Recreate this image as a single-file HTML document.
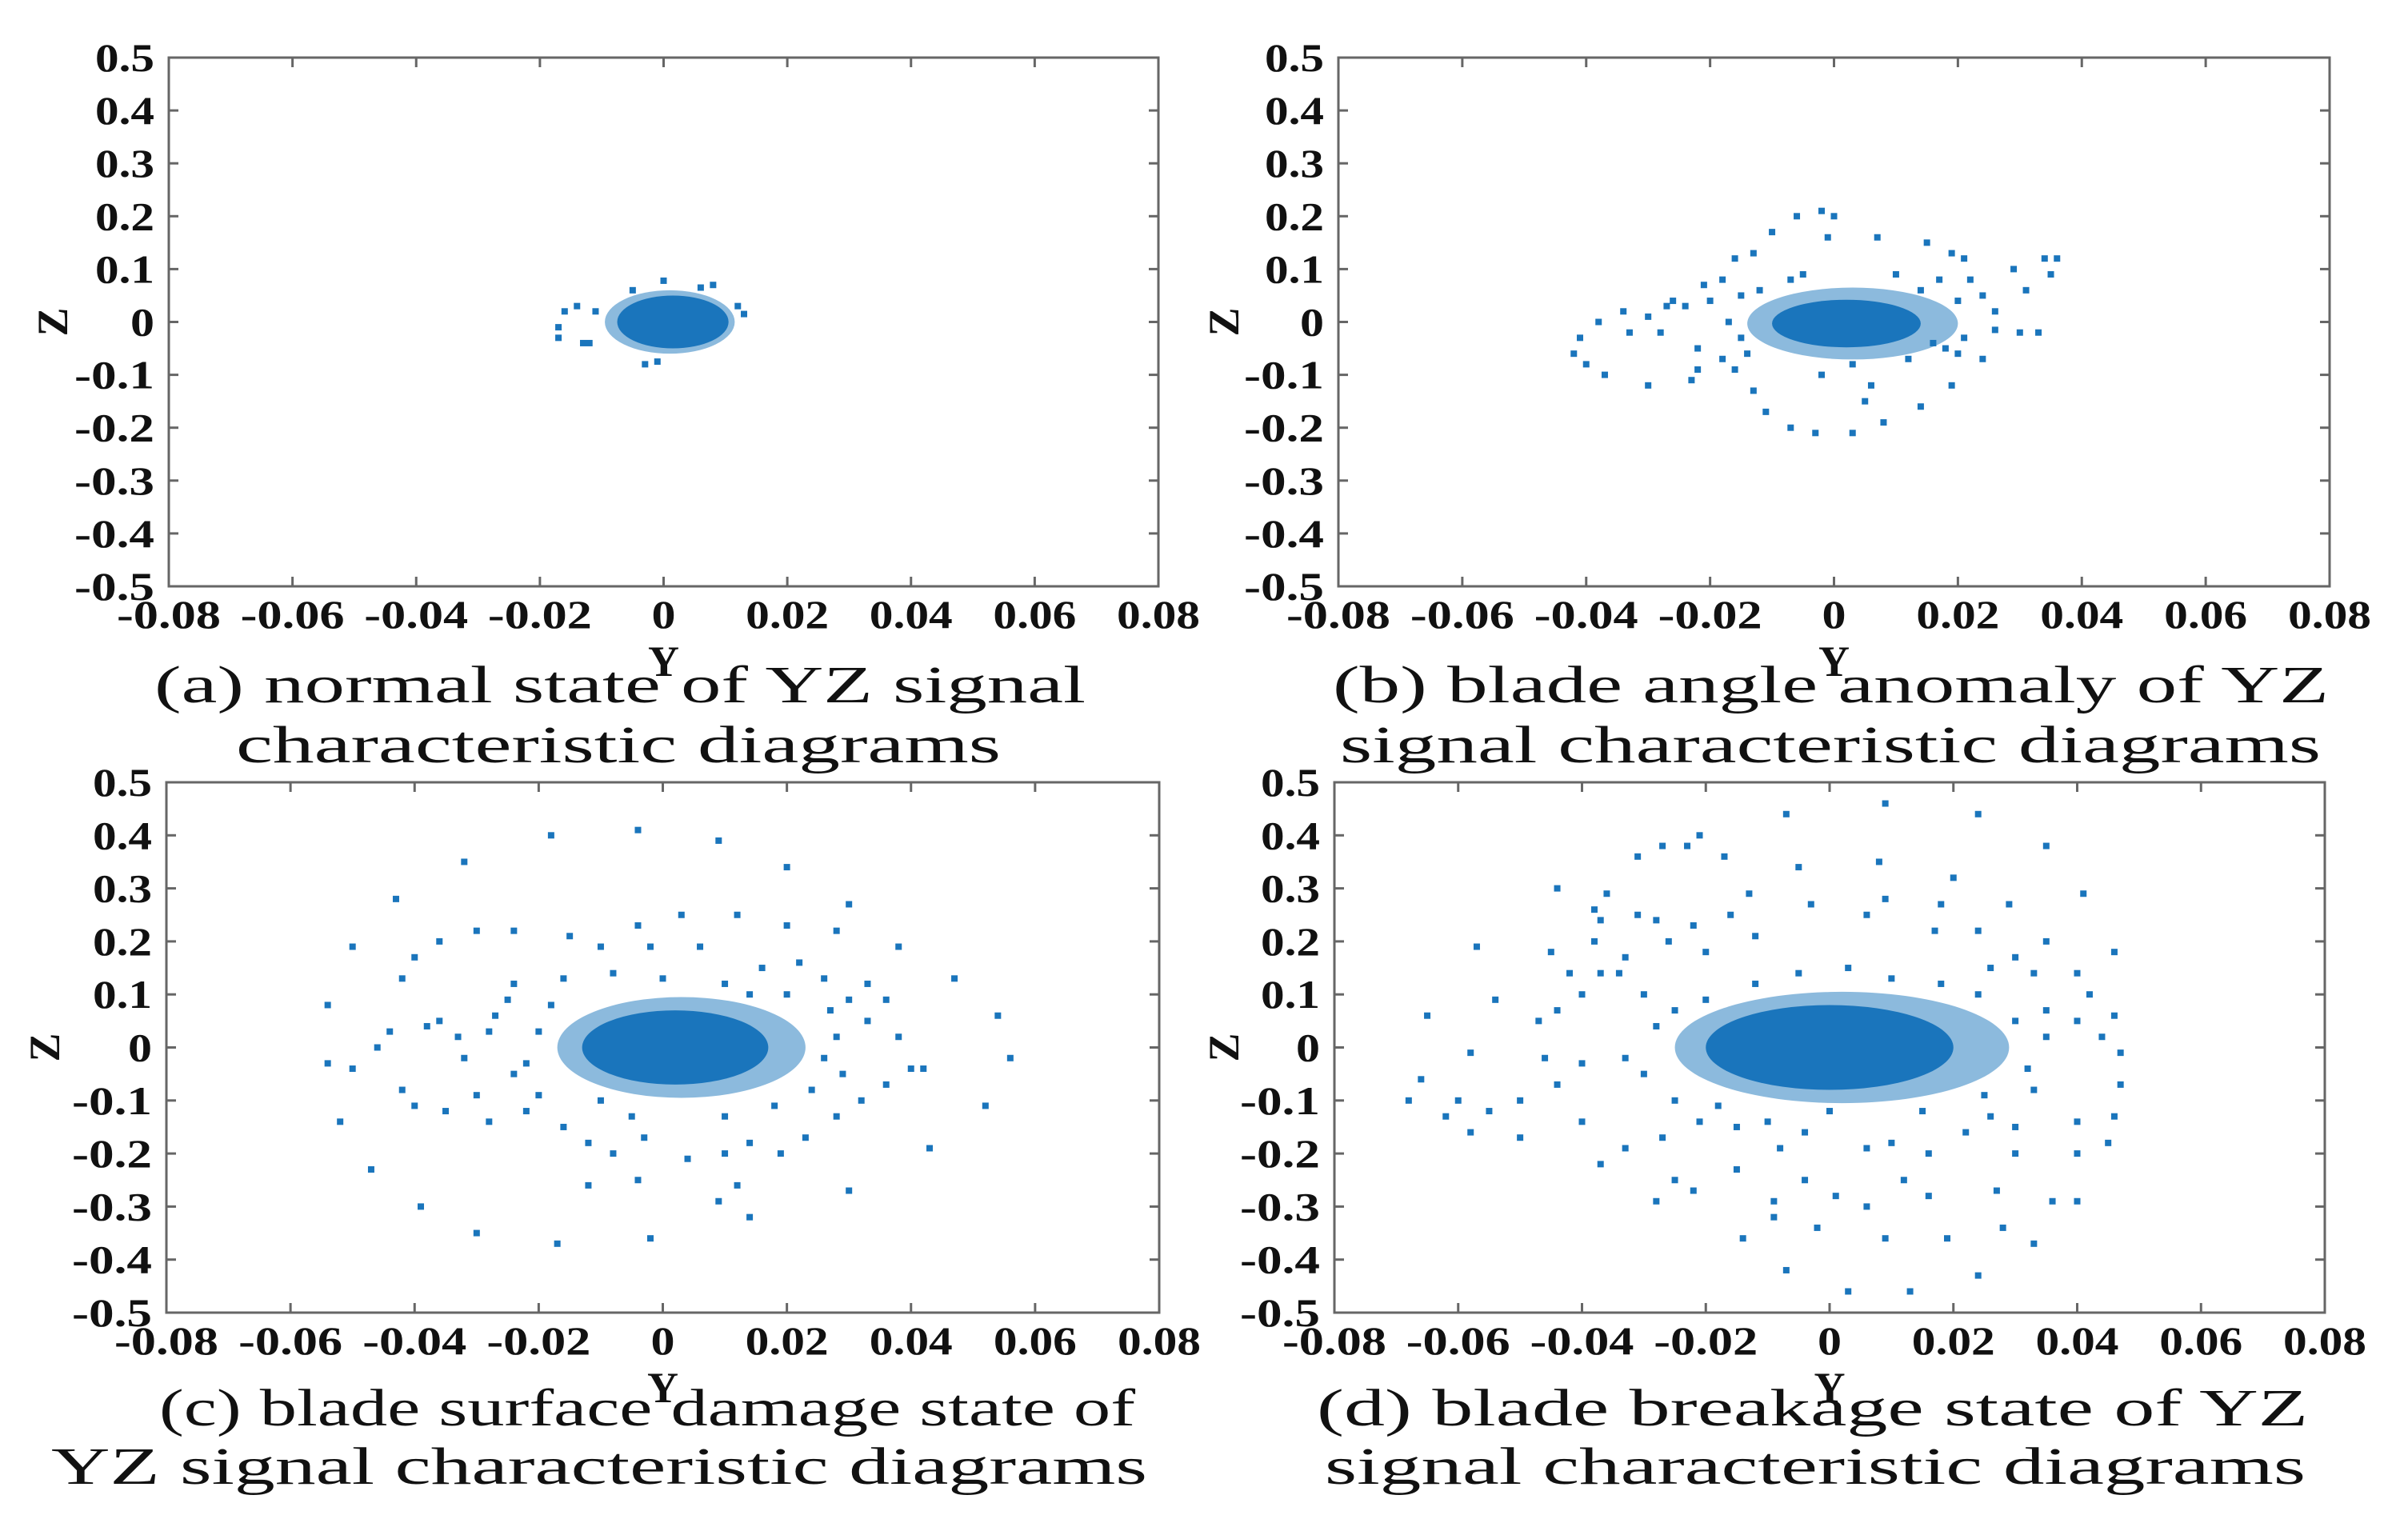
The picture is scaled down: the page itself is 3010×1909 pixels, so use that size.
<!DOCTYPE html>
<html><head><meta charset="utf-8"><style>
html,body{margin:0;padding:0;background:#fff;}
svg{display:block;}
.tk{font-family:"Liberation Serif",serif;font-weight:bold;font-size:50px;fill:#111;}
.cap{font-family:"Liberation Serif",serif;font-size:66px;fill:#111;}
.al{font-family:"Liberation Serif",serif;font-weight:bold;font-size:54px;fill:#111;}
</style></head><body>
<svg id="fig" width="3010" height="1909" viewBox="0 0 3010 1909" xmlns="http://www.w3.org/2000/svg"></svg>
<script>
const xTicks=[-0.08,-0.06,-0.04,-0.02,0,0.02,0.04,0.06,0.08];
const xTickLabels=["-0.08","-0.06","-0.04","-0.02","0","0.02","0.04","0.06","0.08"];
const zTicks=[0.5,0.4,0.3,0.2,0.1,0,-0.1,-0.2,-0.3,-0.4,-0.5];
const zTickLabels=["0.5","0.4","0.3","0.2","0.1","0","-0.1","-0.2","-0.3","-0.4","-0.5"];
const panelIds=["a","b","c","d"];
const captionLine1=["(a) normal state of YZ signal","(b) blade angle anomaly of YZ","(c) blade surface damage state of","(d) blade breakage state of YZ"];
const captionLine2=["characteristic diagrams","signal characteristic diagrams","YZ signal characteristic diagrams","signal characteristic diagrams"];
// dense core of each cloud: [centerY, centerZ, radiusY, radiusZ]
const coreA=[0.0015,0.0,0.009,0.05];
const coreB=[0.002,-0.003,0.012,0.045];
const coreC=[0.002,0.0,0.015,0.07];
const coreD=[0.0,0.0,0.02,0.08];
// halo (medium density) around each core: [centerY, centerZ, radiusY, radiusZ]
const haloA=[0.001,0.0,0.0105,0.06];
const haloB=[0.003,-0.003,0.017,0.068];
const haloC=[0.003,0.0,0.02,0.095];
const haloD=[0.002,0.0,0.027,0.105];
const pointsA=[[-0.017,-0.01],[-0.016,0.02],[-0.014,0.03],[-0.017,-0.03],[-0.013,-0.04],[-0.003,-0.08],[-0.001,-0.075],[0,0.078],[0.012,0.03],[0.008,0.07],[0.013,0.015],[-0.011,0.02],[-0.012,-0.04],[0.006,0.065],[-0.005,0.06]];
const pointsB=[[-0.002,0.21],[-0.006,0.2],[0,0.2],[-0.001,0.16],[-0.01,0.17],[-0.016,0.12],[-0.013,0.13],[0.007,0.16],[0.015,0.15],[0.019,0.13],[0.021,0.12],[0.029,0.1],[0.034,0.12],[0.036,0.12],[0.035,0.09],[0.031,0.06],[0.033,-0.02],[0.03,-0.02],[0.026,-0.015],[0.024,-0.07],[0.019,-0.12],[0.014,-0.16],[0.008,-0.19],[0.003,-0.21],[-0.003,-0.21],[-0.007,-0.2],[-0.011,-0.17],[-0.013,-0.13],[0.005,-0.15],[0.006,-0.12],[-0.023,-0.11],[-0.022,-0.09],[-0.03,-0.12],[-0.037,-0.1],[-0.04,-0.08],[-0.042,-0.06],[-0.041,-0.03],[-0.038,0],[-0.034,0.02],[-0.033,-0.02],[-0.03,0.01],[-0.028,-0.02],[-0.026,0.04],[-0.027,0.03],[-0.024,0.03],[-0.022,-0.05],[-0.021,0.07],[-0.018,0.08],[-0.02,0.04],[-0.018,-0.07],[-0.016,-0.09],[-0.015,0.05],[0.022,0.08],[0.024,0.05],[0.026,0.02],[0.02,-0.06],[0.017,0.08],[0.01,0.09],[-0.005,0.09],[-0.007,0.08],[0.012,-0.07],[-0.002,-0.1],[0.003,-0.08],[0.016,-0.04],[-0.015,-0.03],[-0.017,0.0],[0.02,0.04],[0.021,-0.03],[0.018,-0.05],[0.014,0.06],[-0.012,0.06],[-0.014,-0.06]];
const pointsC=[[-0.004,0.41],[-0.018,0.4],[0.009,0.39],[-0.032,0.35],[0.02,0.34],[-0.043,0.28],[0.03,0.27],[-0.05,0.19],[-0.036,0.2],[-0.03,0.22],[-0.024,0.22],[0.038,0.19],[0.047,0.13],[-0.054,0.08],[0.054,0.06],[0.056,-0.02],[0.052,-0.11],[0.043,-0.19],[-0.054,-0.03],[-0.052,-0.14],[-0.047,-0.23],[-0.039,-0.3],[-0.03,-0.35],[-0.017,-0.37],[-0.002,-0.36],[0.014,-0.32],[0.009,-0.29],[0.03,-0.27],[0.012,-0.26],[-0.012,-0.26],[-0.004,-0.25],[0.003,0.25],[-0.004,0.23],[0.012,0.25],[0.02,0.23],[0.028,0.22],[-0.015,0.21],[-0.01,0.19],[0.006,0.19],[-0.002,0.19],[0.022,0.16],[0.016,0.15],[-0.024,0.12],[-0.042,0.13],[-0.04,0.17],[-0.044,0.03],[-0.046,0],[-0.05,-0.04],[-0.042,-0.08],[-0.04,-0.11],[-0.035,-0.12],[-0.03,-0.09],[-0.028,-0.14],[-0.022,-0.12],[-0.016,-0.15],[-0.012,-0.18],[-0.008,-0.2],[-0.003,-0.17],[0.004,-0.21],[0.01,-0.2],[0.014,-0.18],[0.019,-0.2],[0.023,-0.17],[0.028,-0.13],[0.032,-0.1],[0.036,-0.07],[0.04,-0.04],[0.042,-0.04],[0.038,0.02],[0.033,0.05],[0.036,0.09],[0.03,0.09],[0.026,0.13],[0.033,0.12],[-0.036,0.05],[-0.033,0.02],[-0.032,-0.02],[-0.038,0.04],[-0.027,0.06],[-0.025,0.09],[-0.028,0.03],[-0.024,-0.05],[-0.02,-0.09],[-0.018,0.08],[-0.016,0.13],[-0.008,0.14],[0,0.13],[0.01,0.12],[0.014,0.1],[0.02,0.1],[0.027,0.07],[0.029,-0.05],[0.024,-0.08],[0.018,-0.11],[0.01,-0.13],[-0.005,-0.13],[-0.01,-0.1],[-0.022,-0.03],[-0.02,0.03],[0.026,-0.02],[0.028,0.02]];
const pointsD=[[0.009,0.46],[-0.007,0.44],[0.024,0.44],[-0.021,0.4],[-0.023,0.38],[-0.027,0.38],[0.035,0.38],[-0.031,0.36],[-0.017,0.36],[-0.005,0.34],[0.008,0.35],[0.02,0.32],[0.041,0.29],[-0.044,0.3],[-0.036,0.29],[-0.013,0.29],[-0.003,0.27],[0.009,0.28],[0.018,0.27],[0.029,0.27],[-0.038,0.26],[-0.037,0.24],[-0.031,0.25],[-0.028,0.24],[-0.022,0.23],[-0.016,0.25],[-0.012,0.21],[0.006,0.25],[0.017,0.22],[0.024,0.22],[-0.057,0.19],[-0.045,0.18],[-0.038,0.2],[-0.033,0.17],[-0.026,0.2],[-0.02,0.18],[0.035,0.2],[0.046,0.18],[0.04,0.14],[0.03,0.17],[0.026,0.15],[0.033,0.14],[-0.054,0.09],[-0.065,0.06],[-0.044,0.07],[-0.047,0.05],[-0.04,0.1],[-0.034,0.14],[-0.037,0.14],[-0.03,0.1],[-0.042,0.14],[0.046,0.06],[0.04,0.05],[0.044,0.02],[0.047,-0.01],[0.042,0.1],[0.035,0.07],[-0.058,-0.01],[-0.068,-0.1],[-0.066,-0.06],[-0.062,-0.13],[-0.06,-0.1],[-0.055,-0.12],[-0.058,-0.16],[-0.05,-0.17],[-0.05,-0.1],[-0.046,-0.02],[-0.044,-0.07],[-0.04,-0.03],[-0.04,-0.14],[-0.037,-0.22],[-0.033,-0.19],[-0.028,-0.29],[-0.025,-0.25],[-0.022,-0.27],[-0.027,-0.17],[-0.021,-0.14],[-0.015,-0.15],[-0.015,-0.23],[-0.014,-0.36],[-0.009,-0.29],[-0.009,-0.32],[-0.004,-0.25],[-0.007,-0.42],[-0.002,-0.34],[0.003,-0.46],[0.001,-0.28],[0.006,-0.3],[0.009,-0.36],[0.013,-0.46],[0.012,-0.25],[0.016,-0.28],[0.019,-0.36],[0.024,-0.43],[0.027,-0.27],[0.03,-0.2],[0.028,-0.34],[0.033,-0.37],[0.036,-0.29],[0.04,-0.29],[0.04,-0.2],[0.045,-0.18],[0.046,-0.13],[0.047,-0.07],[0.04,-0.14],[0.033,-0.08],[0.03,-0.15],[0.026,-0.13],[0.022,-0.16],[0.016,-0.2],[0.01,-0.18],[0.006,-0.19],[-0.004,-0.16],[-0.008,-0.19],[-0.018,-0.11],[-0.025,-0.1],[-0.03,-0.05],[-0.033,-0.02],[-0.028,0.04],[-0.025,0.07],[-0.02,0.09],[-0.012,0.12],[-0.005,0.14],[0.003,0.15],[0.01,0.13],[0.018,0.12],[0.024,0.1],[0.03,0.05],[0.035,0.02],[0.032,-0.04],[0.025,-0.09],[0.015,-0.12],[0,-0.12],[-0.01,-0.14]];

const cores=[coreA,coreB,coreC,coreD];
const halos=[haloA,haloB,haloC,haloD];
const pts=[pointsA,pointsB,pointsC,pointsD];
// layout (pixels)
const boxes=[{l:211,r:1448,t:72,b:733,zx:80,c1:878,c2:953,cx1:[193,1357],cx2:[295,1251]},
{l:1673,r:2912,t:72,b:733,zx:1544,c1:878,c2:953,cx1:[1666,2911],cx2:[1675,2901]},
{l:208,r:1449,t:978,b:1641,zx:70,c1:1782,c2:1855,cx1:[199,1419],cx2:[64,1434]},
{l:1668,r:2906,t:978,b:1641,zx:1544,c1:1782,c2:1855,cx1:[1646,2885],cx2:[1656,2882]}];
const NS="http://www.w3.org/2000/svg";
const svg=document.getElementById('fig');
const BLUE="#1a75bc";
function mk(tag,attrs,parent){const e=document.createElementNS(NS,tag);for(const k in attrs)e.setAttribute(k,attrs[k]);parent.appendChild(e);return e;}
function lw(s){let w=0;for(const ch of s){w+=ch==='.'?14:(ch==='-'?26:30);}return w;}
boxes.forEach((B,i)=>{
  const g=mk('g',{},svg);
  
  
  const sx=v=>B.l+(v+0.08)/0.16*(B.r-B.l);
  const sz=v=>B.t+(0.5-v)/1.0*(B.b-B.t);
  const pg=mk('g',{},g);
  
  
  const h=halos[i];
  const he=mk('ellipse',{cx:sx(h[0]),cy:sz(h[1]),rx:(sx(h[2])-sx(0)),ry:(sz(0)-sz(h[3])),fill:BLUE,'fill-opacity':0.5},pg);
  
  
  const c=cores[i];
  const ce=mk('ellipse',{cx:sx(c[0]),cy:sz(c[1]),rx:(sx(c[2])-sx(0)),ry:(sz(0)-sz(c[3])),fill:BLUE},pg);
  
  
  pts[i].forEach(p=>{
    const d=mk('rect',{x:sx(p[0])-4,y:sz(p[1])-4,width:8,height:8,fill:BLUE},pg);
    
    
  });
  const fr=mk('rect',{x:B.l,y:B.t,width:B.r-B.l,height:B.b-B.t,fill:'none',stroke:'#666','stroke-width':3},g);
  
  
  xTicks.forEach((v,k)=>{
    const x=sx(v);
    mk('line',{x1:x,y1:B.b,x2:x,y2:B.b-12,stroke:'#666','stroke-width':3},g);
    mk('line',{x1:x,y1:B.t,x2:x,y2:B.t+12,stroke:'#666','stroke-width':3},g);
    const t=mk('text',{x:x,y:B.b+52,'text-anchor':'middle',class:'tk',textLength:lw(xTickLabels[k]),lengthAdjust:'spacingAndGlyphs'},g);
    t.textContent=xTickLabels[k];
    
    
  });
  zTicks.forEach((v,k)=>{
    const y=sz(v);
    mk('line',{x1:B.l,y1:y,x2:B.l+12,y2:y,stroke:'#666','stroke-width':3},g);
    mk('line',{x1:B.r,y1:y,x2:B.r-12,y2:y,stroke:'#666','stroke-width':3},g);
    const t=mk('text',{x:B.l-18,y:y+17,'text-anchor':'end',class:'tk',textLength:lw(zTickLabels[k]),lengthAdjust:'spacingAndGlyphs'},g);
    t.textContent=zTickLabels[k];
    
    
  });
  const yl=mk('text',{x:(B.l+B.r)/2,y:B.b+112,'text-anchor':'middle',class:'al'},g);
  yl.textContent='Y';
  
  
  const zy=sz(0);
  const zl=mk('text',{x:B.zx,y:zy+4,'text-anchor':'middle',class:'al',transform:'rotate(-90 '+B.zx+' '+zy+')'},g);
  zl.textContent='Z';
  
  
  const t1=mk('text',{x:B.cx1[0],y:B.c1,class:'cap',textLength:B.cx1[1]-B.cx1[0],lengthAdjust:'spacingAndGlyphs'},g);
  t1.textContent=captionLine1[i];
  
  
  const t2=mk('text',{x:B.cx2[0],y:B.c2,class:'cap',textLength:B.cx2[1]-B.cx2[0],lengthAdjust:'spacingAndGlyphs'},g);
  t2.textContent=captionLine2[i];
  
  
});
</script>
</body></html>
